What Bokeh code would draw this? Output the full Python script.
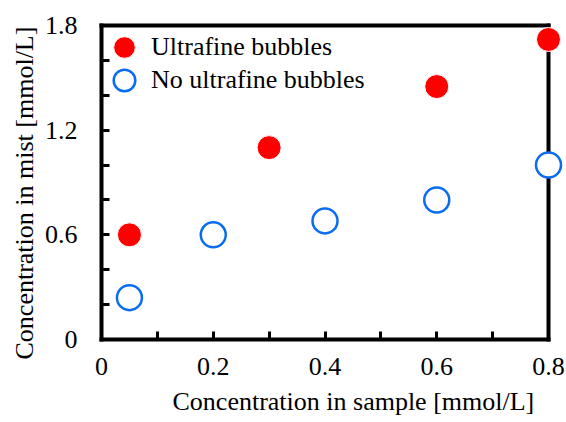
from bokeh.plotting import figure
from bokeh.models import FixedTicker, Range1d, Legend, LegendItem, Title, LinearAxis
from bokeh.embed import file_html
from bokeh.resources import INLINE

# data
x_ufb = [0.05, 0.3, 0.6, 0.8]
y_ufb = [0.6, 1.1, 1.45, 1.72]
x_no = [0.05, 0.2, 0.4, 0.6, 0.8]
y_no = [0.24, 0.6, 0.68, 0.8, 1.0]
x_ticks = [0, 0.1, 0.2, 0.3, 0.4, 0.5, 0.6, 0.7, 0.8]
x_tick_labels = ["0", "", "0.2", "", "0.4", "", "0.6", "", "0.8"]
y_ticks = [0, 0.2, 0.4, 0.6, 0.8, 1.0, 1.2, 1.4, 1.6, 1.8]
y_tick_labels = ["0", "", "", "0.6", "", "", "1.2", "", "", "1.8"]
series_names = ["Ultrafine bubbles", "No ultrafine bubbles"]
x_title = "Concentration in sample [mmol/L]"
y_title = "Concentration in mist [mmol/L]"

FONT = "Liberation Serif"

p = figure(width=566, height=422, output_backend="svg", toolbar_location=None,
           x_range=Range1d(0, 0.8), y_range=Range1d(0, 1.8),
           min_border_left=101, min_border_right=18, min_border_top=25, min_border_bottom=82)
p.outline_line_color = None
p.grid.visible = False
p.background_fill_color = "white"
p.border_fill_color = "white"

r1 = p.scatter(x_ufb, y_ufb, size=24, fill_color="#FF0000", line_color="white", line_width=1)
r2 = p.scatter(x_no, y_no, size=25, fill_color="white", line_color="#0A6CF0", line_width=2.5)
r1.level = "overlay"
r2.level = "overlay"

for ax, ticks, labels in ((p.xaxis[0], x_ticks, x_tick_labels), (p.yaxis[0], y_ticks, y_tick_labels)):
    ax.ticker = FixedTicker(ticks=ticks)
    ax.major_label_overrides = {t: l for t, l in zip(ticks, labels)}
    ax.axis_line_color = "black"
    ax.axis_line_width = 4
    ax.axis_line_cap = "square"
    ax.major_tick_in = 8
    ax.major_tick_out = 0
    ax.major_tick_line_width = 3
    ax.major_tick_line_color = "black"
    ax.minor_tick_line_color = None
    ax.major_label_text_font = FONT
    ax.major_label_text_font_size = "26px"
    ax.major_label_text_color = "black"

p.xaxis[0].major_label_standoff = 18
p.xaxis[0].major_label_text_line_height = 0.9
p.yaxis[0].major_label_standoff = 24

for place in ("right", "above"):
    frame_axis = LinearAxis(ticker=FixedTicker(ticks=[]), axis_line_color="black",
                            axis_line_width=4, axis_line_cap="square",
                            major_tick_line_color=None, minor_tick_line_color=None,
                            major_label_text_color=None, major_label_standoff=0,
                            major_tick_out=0, major_tick_in=0)
    p.add_layout(frame_axis, place)

xt = Title(text=x_title, align="left", offset=71, text_font=FONT, text_font_size="26px",
           text_font_style="normal", text_color="black", standoff=14, text_line_height=0.8)
p.add_layout(xt, "below")

yt = Title(text=y_title, align="left", offset=-20, text_font=FONT, text_font_size="26px",
           text_font_style="normal", text_color="black", standoff=6)
p.add_layout(yt, "left")

legend_style = dict(glyph_width=54, glyph_height=54, padding=0, margin=0, label_standoff=0,
                    border_line_color=None, background_fill_alpha=0,
                    label_text_font=FONT, label_text_font_size="26px", label_text_color="black")
leg1 = Legend(items=[LegendItem(label=series_names[0], renderers=[r1])],
              location=(-4, 265), **legend_style)
leg2 = Legend(items=[LegendItem(label=series_names[1], renderers=[r2])],
              location=(-4, 232), **legend_style)
p.add_layout(leg1)
p.add_layout(leg2)

open("out.html", "w").write(file_html(p, INLINE))
